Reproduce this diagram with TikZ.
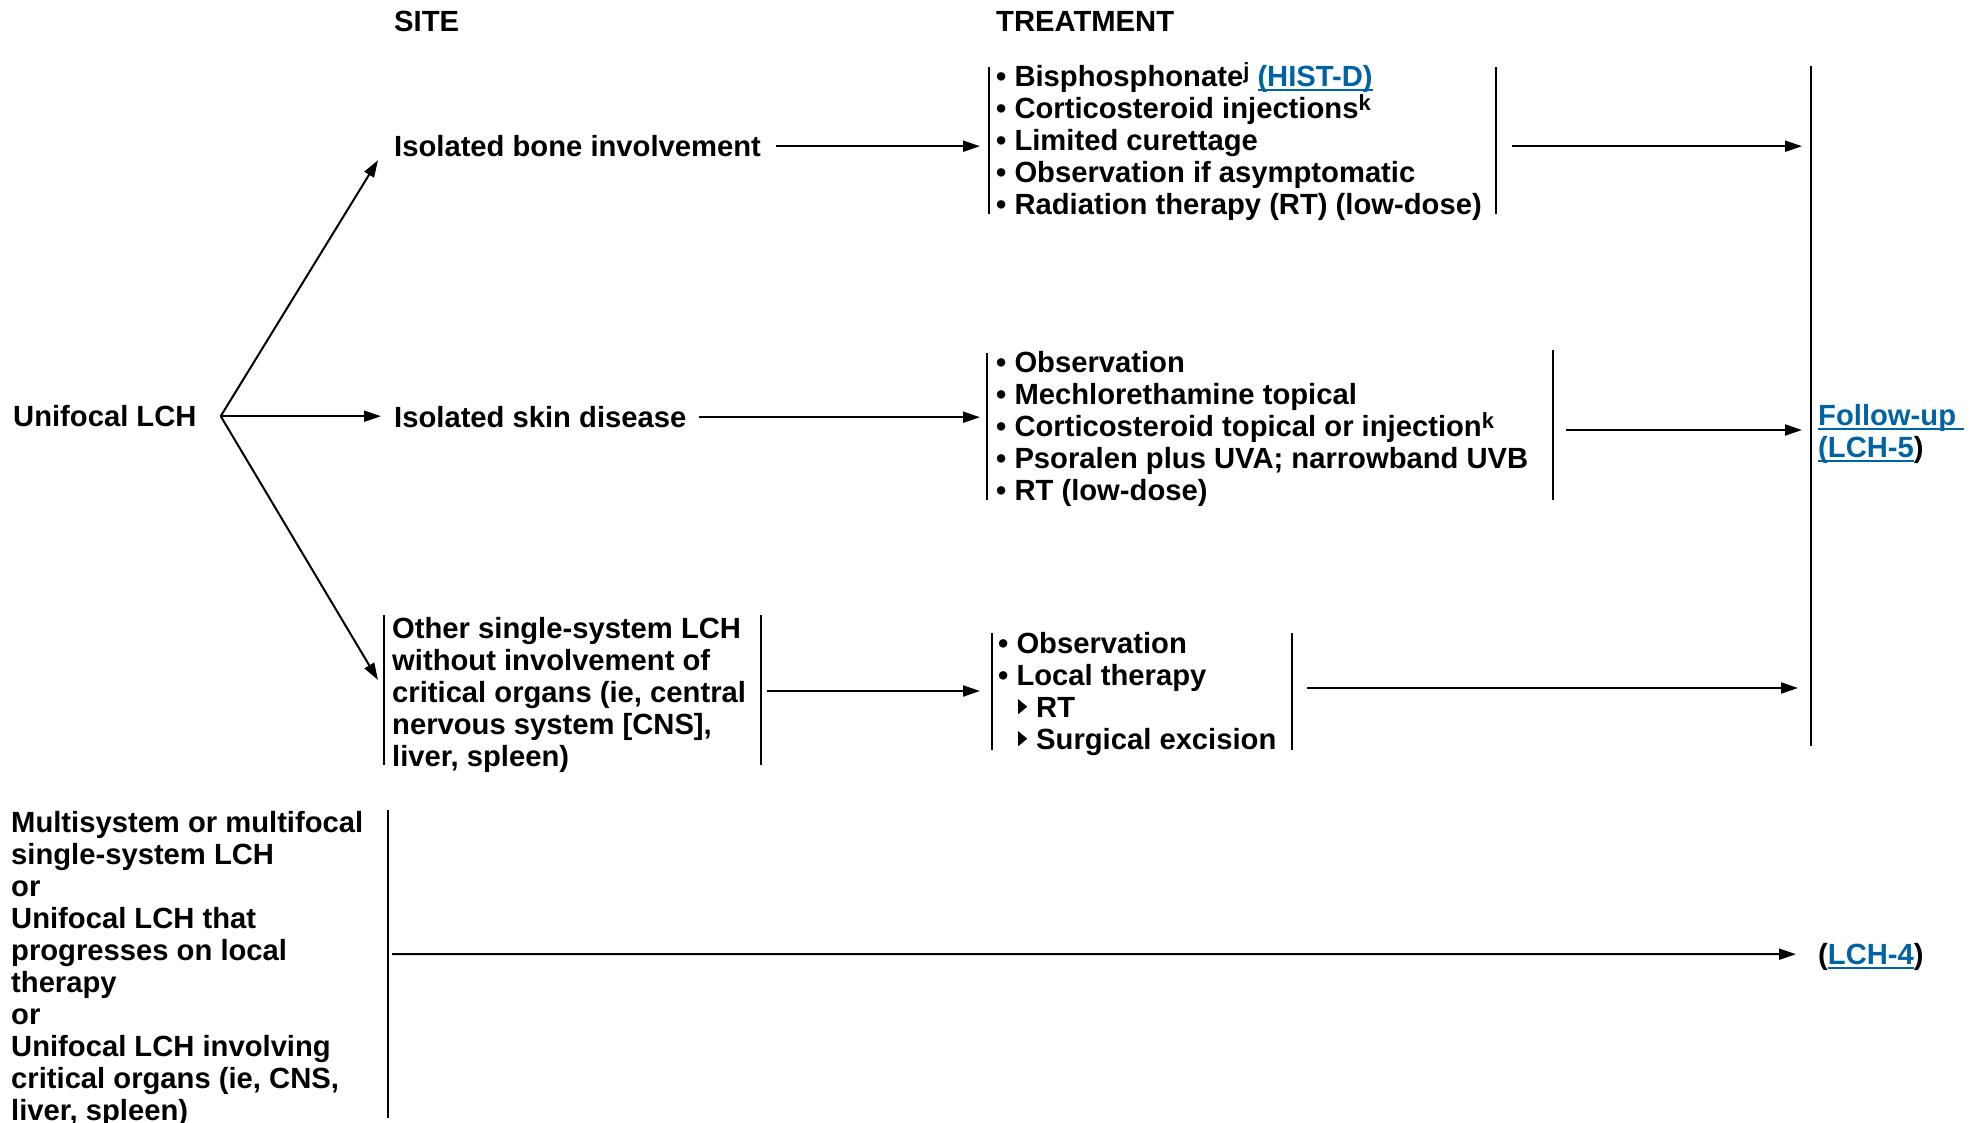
\documentclass[tikz,border=0pt]{standalone}
\usepackage{fontspec}
\setmainfont{Liberation Sans}
\usetikzlibrary{arrows.meta,calc}
\definecolor{lnk}{RGB}{0,99,166}
\newcommand\st{\rule{0pt}{30pt}}
\newcommand\lnk[1]{{\color{lnk}\setbox0\hbox{#1}\rlap{\rule[-4.5pt]{\wd0}{2pt}}\box0}}
\newcommand\sups[1]{\raisebox{8pt}[21pt][0pt]{\fontsize{22}{22}\selectfont #1}}
\newcommand\tri{\tikz[baseline=0pt]\fill (0pt,3pt) -- (9pt,10.5pt) -- (0pt,18pt) -- cycle;}
\newcommand\subitm[1]{\hspace*{20pt}\makebox[18pt][l]{\tri}#1}
\tikzset{
  txt/.style={anchor=north west, inner sep=0pt, align=left,
    font=\fontsize{29.2}{32}\selectfont\bfseries},
  arr/.style={line width=2pt, -{Triangle[length=17pt,width=11pt]}},
  bar/.style={line width=2pt},
}
\begin{document}
\begin{tikzpicture}[x=1pt,y=-1pt]
\useasboundingbox[fill=white] (0,0) rectangle (1976,1123);

% headers
\node[txt] (site) at (394,1) {\st SITE};
\node[txt] (treat) at (996,1) {\st TREATMENT};

% left column
\node[txt] (unif) at (13,396) {\st Unifocal LCH};
\node[txt] (bone) at (394,126) {\st Isolated bone involvement};
\node[txt] (skin) at (394,397) {\st Isolated skin disease};
\node[txt] (other) at (392,608) {\st Other single-system LCH\\without involvement of\\critical organs (ie, central\\nervous system [CNS],\\liver, spleen)};
\node[txt] (multi) at (11,802) {\st Multisystem or multifocal\\single-system LCH\\or\\Unifocal LCH that\\progresses on local\\therapy\\or\\Unifocal LCH involving\\critical organs (ie, CNS,\\liver, spleen)};

% treatments
\node[txt] (t1) at (996,56) {\st• Bisphosphonate\sups{j} \lnk{(HIST-D)}\\• Corticosteroid injections\sups{k}\\• Limited curettage\\• Observation if asymptomatic\\• Radiation therapy (RT) (low-dose)};
\node[txt] (t2) at (996,342) {\st• Observation\\• Mechlorethamine topical\\• Corticosteroid topical or injection\sups{k}\\• Psoralen plus UVA; narrowband UVB\\• RT (low-dose)};
\node[txt] (t3) at (998,623) {\st• Observation\\• Local therapy\\\subitm{RT}\\\subitm{Surgical excision}};

% outcomes
\node[txt] (fu) at (1818,395) {\st\lnk{Follow-up\ }\\\lnk{(LCH-5})};
\node[txt] (l4) at (1818,934) {\st(\lnk{LCH-4})};

% bracket bars
\coordinate (b1l) at (989,67);  \coordinate (b1r) at (1496,67);
\coordinate (b2l) at (987,353); \coordinate (b2r) at (1553,350);
\coordinate (o1l) at (384,615); \coordinate (o1r) at (761,615);
\coordinate (b3l) at (992,633); \coordinate (b3r) at (1292,633);
\coordinate (big) at (1811,66);
\coordinate (bot) at (388,810);
\draw[bar] (b1l) -- ++(0,147);
\draw[bar] (b1r) -- ++(0,147);
\draw[bar] (b2l) -- ++(0,147);
\draw[bar] (b2r) -- ++(0,150);
\draw[bar] (o1l) -- ++(0,150);
\draw[bar] (o1r) -- ++(0,150);
\draw[bar] (b3l) -- ++(0,117);
\draw[bar] (b3r) -- ++(0,117);
\draw[bar] (big) -- ++(0,680);
\draw[bar] (bot) -- ++(0,308);

% branching
\coordinate (br) at ($(unif.base east)+(24,-10)$);
\draw[arr] (br) -- ($(bone.base west)+(-16,4)$);
\draw[arr] (br) -- ($(skin.base west)+(-13,-11)$);
\draw[arr] (br) -- ($(o1l)+(-6,65)$);

% site -> treatment
\draw[arr] ($(bone.base east)+(15,-10)$) -- ($(bone.base east -| b1l)+(-9,-10)$);
\draw[arr] ($(skin.base east)+(12,-10)$) -- ($(skin.base east -| b2l)+(-7,-10)$);
\draw[arr] ($(o1r)+(6,76)$) -- ($(o1r -| b3l)+(-12,76)$);

% treatment -> follow-up
\draw[arr] ($(b1r |- bone.base)+(16,-10)$) -- ($(big |- bone.base)+(-9,-10)$);
\draw[arr] ($(b2r)+(13,80)$) -- ($(b2r -| big)+(-9,80)$);
\draw[arr] ($(b3r)+(15,55)$) -- ($(b3r -| big)+(-13,55)$);

% bottom
\draw[arr] ($(bot)+(4,144)$) -- ($(l4.base west)+(-22,-10)$);
\end{tikzpicture}
\end{document}
